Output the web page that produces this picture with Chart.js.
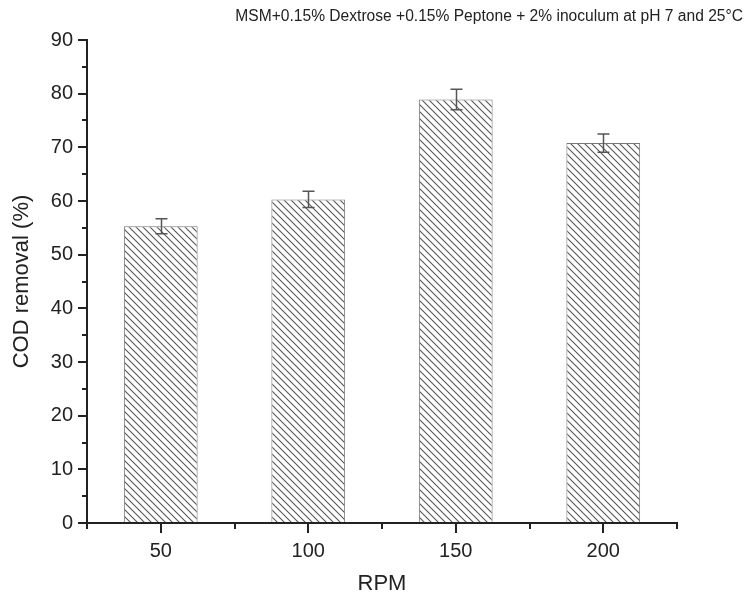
<!DOCTYPE html>
<html>
<head>
<meta charset="utf-8">
<script src="https://cdn.jsdelivr.net/npm/chart.js@4.4.1/dist/chart.umd.min.js"></script>
<style>
  html, body { margin: 0; padding: 0; background: #fff; }
  #wrap { width: 747px; height: 597px; }
</style>
</head>
<body>
<div id="wrap"><canvas id="c" width="747" height="597"></canvas></div>
<script>
// RPM levels and COD removal (%) with standard deviations
const rpmLabels = ['50', '100', '150', '200'];
const codRemoval = [55.3, 60.3, 78.9, 70.8];
const codError = [1.4, 1.5, 1.9, 1.7];
const yTicksMajor = [0, 10, 20, 30, 40, 50, 60, 70, 80, 90];
const chartTitle = 'MSM+0.15% Dextrose +0.15% Peptone + 2% inoculum at pH 7 and 25°C';

const FONT = "'Liberation Sans', Arial, Helvetica, sans-serif";
const INK = '#222';

// diagonal hatch fill for the bars
function makeHatch() {
  const s = 7;
  const cv = document.createElement('canvas');
  cv.width = s; cv.height = s;
  const g = cv.getContext('2d');
  g.fillStyle = '#fff';
  g.fillRect(0, 0, s, s);
  g.strokeStyle = '#555';
  g.lineWidth = 1.1;
  for (const c of [-s, 0, s]) {
    g.beginPath();
    g.moveTo(-1 + c, -1);
    g.lineTo(s + 1 + c, s + 1);
    g.stroke();
  }
  return g.createPattern(cv, 'repeat');
}

// axis lines with major/minor ticks
const axesPlugin = {
  id: 'axesTicks',
  afterDraw(chart) {
    const ctx = chart.ctx;
    const x = chart.scales.x, y = chart.scales.y;
    const L = chart.chartArea.left, R = chart.chartArea.right;
    const T = chart.chartArea.top, B = chart.chartArea.bottom;
    ctx.save();
    ctx.strokeStyle = INK;
    ctx.lineWidth = 2;
    ctx.beginPath();
    ctx.moveTo(L, T - 1); ctx.lineTo(L, B + 1);
    ctx.moveTo(L - 1, B); ctx.lineTo(R + 1, B);
    // y ticks: majors every 10, minors in between
    for (let v = y.min; v <= y.max; v += 5) {
      const py = Math.round(y.getPixelForValue(v));
      const len = (v % 10 === 0) ? 9 : 5;
      ctx.moveTo(L, py); ctx.lineTo(L - len, py);
    }
    // x ticks: majors at categories, minors at boundaries
    const n = rpmLabels.length;
    for (let i = 0; i < n; i++) {
      const px = Math.round(x.getPixelForValue(i));
      ctx.moveTo(px, B); ctx.lineTo(px, B + 10);
    }
    for (let i = 0; i <= n; i++) {
      const px = Math.round(x.getPixelForValue(i - 0.5));
      ctx.moveTo(px, B); ctx.lineTo(px, B + 6);
    }
    ctx.stroke();

    // heading above the plot
    ctx.fillStyle = INK;
    ctx.font = '15.6px ' + FONT;
    ctx.textAlign = 'right';
    ctx.textBaseline = 'middle';
    ctx.fillText(chartTitle, 743, 17);
    ctx.restore();
  }
};

// error bars with caps
const errorBarPlugin = {
  id: 'errorBars',
  afterDatasetsDraw(chart) {
    const ctx = chart.ctx;
    const meta = chart.getDatasetMeta(0);
    const y = chart.scales.y;
    ctx.save();
    ctx.strokeStyle = '#555';
    ctx.lineWidth = 1.5;
    meta.data.forEach((bar, i) => {
      const cx = Math.round(bar.x) + 0.5;
      const top = y.getPixelForValue(codRemoval[i] + codError[i]);
      const bot = y.getPixelForValue(codRemoval[i] - codError[i]);
      const w = 6;
      ctx.beginPath();
      ctx.moveTo(cx, top); ctx.lineTo(cx, bot);
      ctx.moveTo(cx - w, top); ctx.lineTo(cx + w, top);
      ctx.moveTo(cx - w, bot); ctx.lineTo(cx + w, bot);
      ctx.stroke();
    });
    ctx.restore();
  }
};

const ctx = document.getElementById('c').getContext('2d');
new Chart(ctx, {
  type: 'bar',
  data: {
    labels: rpmLabels,
    datasets: [{
      data: codRemoval,
      backgroundColor: makeHatch(),
      borderColor: '#777',
      borderWidth: 1,
      barPercentage: 0.5,
      categoryPercentage: 1.0
    }]
  },
  options: {
    responsive: false,
    animation: false,
    devicePixelRatio: 1,
    layout: { padding: { top: 40, right: 70, bottom: 0, left: 0 } },
    plugins: {
      legend: { display: false },
      tooltip: { enabled: false },
      title: { display: false }
    },
    scales: {
      x: {
        type: 'category',
        offset: true,
        grid: { display: false, drawTicks: false },
        border: { display: false },
        ticks: { color: INK, font: { family: FONT, size: 20 }, padding: 16 },
        title: {
          display: true, text: 'RPM', color: INK,
          font: { family: FONT, size: 22 }, padding: { top: 0, bottom: 0 }
        },
        afterFit(s) { s.height = 74; }
      },
      y: {
        min: 0, max: 90,
        afterBuildTicks(s) { s.ticks = yTicksMajor.map(v => ({ value: v })); },
        grid: { display: false, drawTicks: false },
        border: { display: false },
        ticks: { color: INK, font: { family: FONT, size: 20 }, padding: 14 },
        title: {
          display: true, text: 'COD removal (%)', color: INK,
          font: { family: FONT, size: 22 }, padding: { top: 9, bottom: 0 }
        },
        afterFit(s) { s.width = 87; }
      }
    }
  },
  plugins: [axesPlugin, errorBarPlugin]
});
</script>
</body>
</html>
